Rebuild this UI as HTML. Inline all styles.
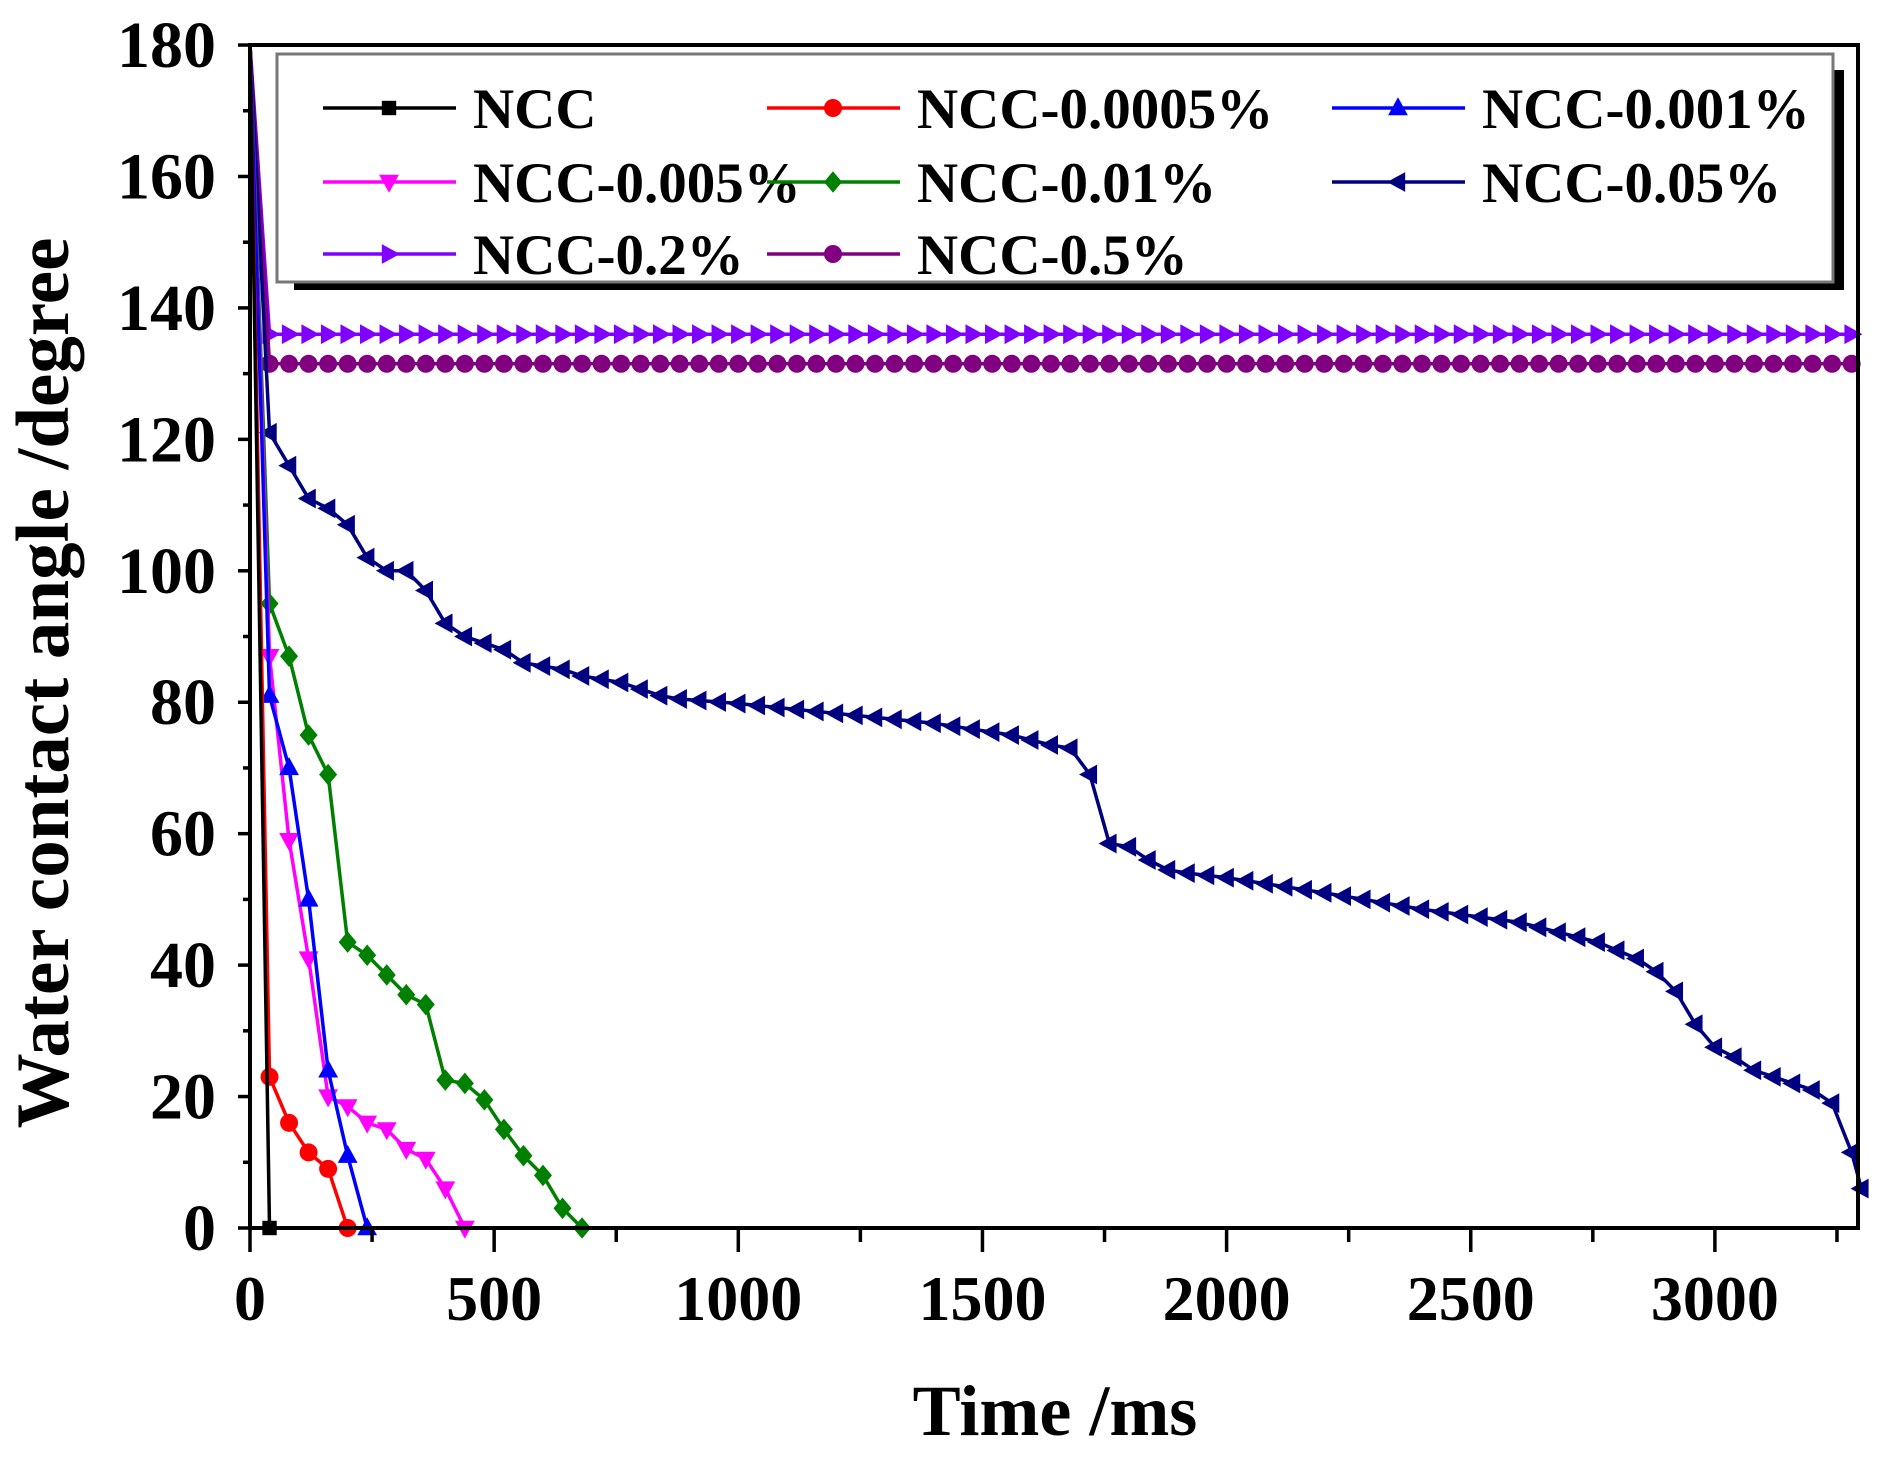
<!DOCTYPE html>
<html><head><meta charset="utf-8"><style>
html,body{margin:0;padding:0;background:#fff;}
svg{display:block;}
text{font-family:"Liberation Serif",serif;font-weight:bold;fill:#000;}
</style></head><body>
<svg id="s" width="1879" height="1465" viewBox="0 0 1879 1465" xmlns="http://www.w3.org/2000/svg">
<rect width="1879" height="1465" fill="#fff"/>
<g id="plot"></g>
<g id="axes"></g>
<text x="1055" y="1435" font-size="72" text-anchor="middle">Time /ms</text>
<text transform="translate(68,683) rotate(-90)" font-size="75" text-anchor="middle">Water contact angle /degree</text>
</svg>
<script>
var NS="http://www.w3.org/2000/svg";
function X(t){return 250+0.4883*t;}
function Y(v){return 1228-6.572*v;}
function el(p,n,a){var e=document.createElementNS(NS,n);for(var k in a)e.setAttribute(k,a[k]);p.appendChild(e);return e;}
var plot=document.getElementById('plot'),axes=document.getElementById('axes');
function marker(g,type,x,y,c,s){
 s=s||9;
 if(type=='sq')el(g,'rect',{x:x-s*0.8,y:y-s*0.8,width:s*1.6,height:s*1.6,fill:c});
 else if(type=='ci')el(g,'circle',{cx:x,cy:y,r:s,fill:c});
 else{var p;
  if(type=='up')p=[[x,y-s*1.2],[x-s*1.1,y+s*0.8],[x+s*1.1,y+s*0.8]];
  if(type=='dn')p=[[x,y+s*1.2],[x-s*1.1,y-s*0.8],[x+s*1.1,y-s*0.8]];
  if(type=='lt')p=[[x-s*1.2,y],[x+s*0.8,y-s*1.1],[x+s*0.8,y+s*1.1]];
  if(type=='rt')p=[[x+s*1.2,y],[x-s*0.8,y-s*1.1],[x-s*0.8,y+s*1.1]];
  if(type=='di')p=[[x,y-s*1.2],[x+s,y],[x,y+s*1.2],[x-s,y]];
  el(g,'polygon',{points:p.map(function(a){return a.join(',')}).join(' '),fill:c});}
}
function series(pts,c,type){
 var g=el(plot,'g',{});
 el(g,'polyline',{points:pts.map(function(p){return X(p[0])+','+Y(p[1])}).join(' '),fill:'none',stroke:c,'stroke-width':3.5});
 pts.forEach(function(p,i){if(i>0||p[1]<180)marker(g,type,X(p[0]),Y(p[1]),c);});
}
var f2=[[0,180]],f5=[[0,180]];
for(var t=40;t<=3300;t+=40){f2.push([t,136]);f5.push([t,131.5]);}
series(f2,'#8000ff','rt');
series(f5,'#800080','ci');
var nk=[[0,180],[40,121],[80,116],[120,111],[160,109.5],[200,107],[240,102],[280,100],[320,100],[360,97],[400,92],[440,90],[480,89],[520,88],[560,86],[600,85.5],[640,85],[680,84],[720,83.5],[760,83],[800,82],[840,81],[880,80.5],[1000,79.8],[1200,78.3],[1400,76.8],[1560,75],[1640,73.5],[1680,73],[1720,69],[1760,58.5],[1800,58],[1840,56],[1880,54.5],[1920,54],[2000,53.3],[2200,51],[2400,48.5],[2600,46.5],[2760,43.5],[2840,41],[2880,39],[2920,36],[2960,31],[3000,27.5],[3040,26],[3080,24],[3120,23],[3160,22],[3200,21],[3240,19],[3280,11.5],[3300,6]];
function interp(k,t){for(var i=1;i<k.length;i++){if(t<=k[i][0]){var a=k[i-1],b=k[i];return a[1]+(b[1]-a[1])*(t-a[0])/(b[0]-a[0]);}}return k[k.length-1][1];}
var n05=[[0,180]];for(var t=40;t<=3280;t+=40)n05.push([t,interp(nk,t)]);n05.push([3300,6]);
series(n05,'#000080','lt');
series([[0,180],[40,95],[80,87],[120,75],[160,69],[200,43.5],[240,41.5],[280,38.5],[320,35.5],[360,34],[400,22.5],[440,22],[480,19.5],[520,15],[560,11],[600,8],[640,3],[680,0]],'#008000','di');
series([[0,180],[40,87],[80,59],[120,41],[160,20],[200,18.5],[240,16],[280,15],[320,12],[360,10.5],[400,6],[440,0]],'#ff00ff','dn');
series([[0,180],[40,81],[80,70],[120,50],[160,24],[200,11],[240,0]],'#0000ff','up');
series([[0,180],[40,23],[80,16],[120,11.5],[160,9],[200,0]],'#ff0000','ci');
series([[0,180],[40,0]],'#000','sq');
var lg=el(axes,'g',{});
el(lg,'rect',{x:294,y:70,width:1550,height:220,fill:'#000'});
el(lg,'rect',{x:277,y:54,width:1556,height:228,fill:'#fff',stroke:'#777','stroke-width':3});
var L=[['NCC','#000','sq'],['NCC-0.0005%','#ff0000','ci'],['NCC-0.001%','#0000ff','up'],['NCC-0.005%','#ff00ff','dn'],['NCC-0.01%','#008000','di'],['NCC-0.05%','#000080','lt'],['NCC-0.2%','#8000ff','rt'],['NCC-0.5%','#800080','ci']];
var cx=[323,767,1332],ry=[108,182,254];
L.forEach(function(l,i){var x=cx[i%3],y=ry[Math.floor(i/3)];
 el(lg,'line',{x1:x,y1:y,x2:x+133,y2:y,stroke:l[1],'stroke-width':3.5});
 marker(lg,l[2],x+66,y,l[1]);
 var tx=el(lg,'text',{x:x+150,y:y+20,'font-size':57});tx.textContent=l[0];});
el(axes,'rect',{x:250,y:45,width:1608,height:1183,fill:'none',stroke:'#000','stroke-width':4});
for(var v=0;v<=180;v+=10){var y=Y(v),maj=v%20==0;
 el(axes,'line',{x1:250,y1:y,x2:maj?238:243,y2:y,stroke:'#000','stroke-width':3.5});
 if(maj){var tx=el(axes,'text',{x:216,y:y+22,'font-size':66,'text-anchor':'end'});tx.textContent=v;}}
for(var t=0;t<=3250;t+=250){var x=X(t),maj=t%500==0;
 el(axes,'line',{x1:x,y1:1228,x2:x,y2:maj?1252:1242,stroke:'#000','stroke-width':3.5});
 if(maj){var tx=el(axes,'text',{x:x,y:1320,'font-size':64,'text-anchor':'middle'});tx.textContent=t;}}
</script>
</body></html>
